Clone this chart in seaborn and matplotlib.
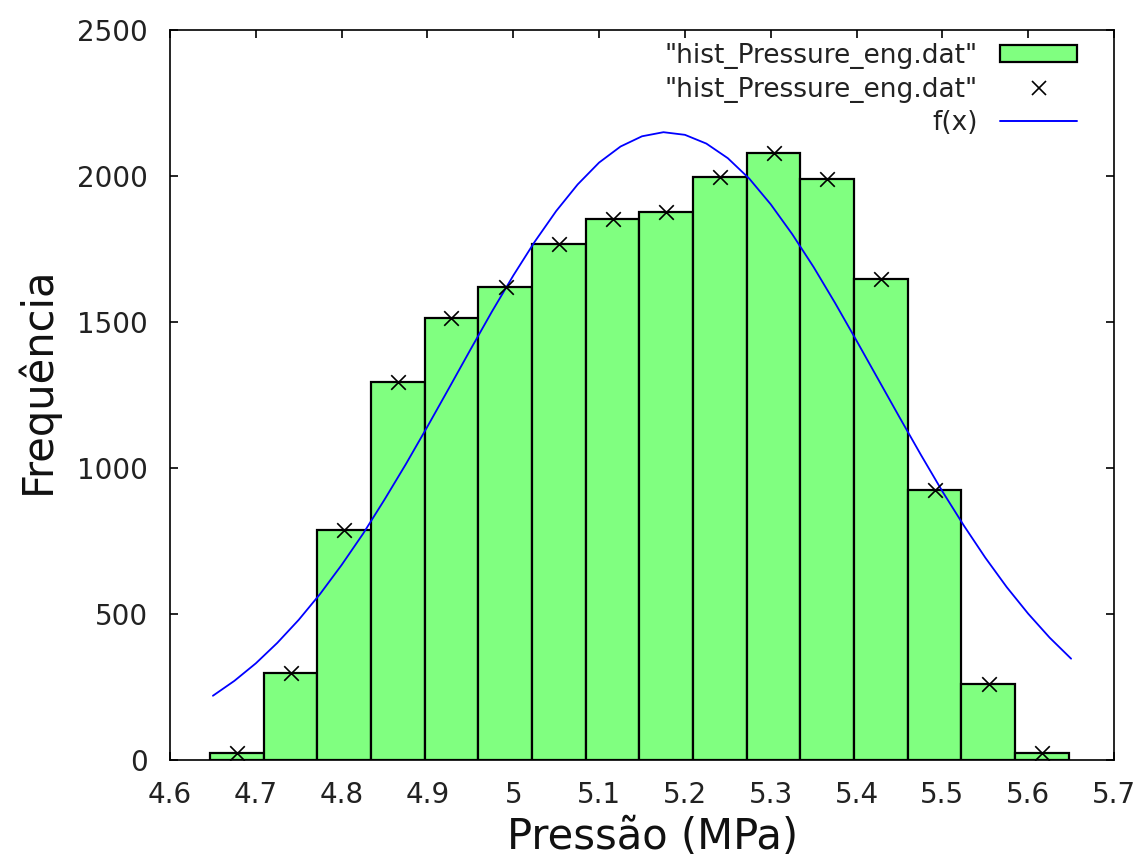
import numpy as np
import pandas as pd
import matplotlib
matplotlib.use("Agg")
import matplotlib.pyplot as plt
import seaborn as sns
from matplotlib.patches import Patch
from matplotlib.lines import Line2D

# ---- data ----
bin_centers = [4.678, 4.741, 4.803, 4.866, 4.928, 4.991, 5.053, 5.116,
               5.178, 5.241, 5.304, 5.366, 5.429, 5.491, 5.554, 5.616]
bin_counts = [24, 299, 788, 1296, 1515, 1621, 1766, 1853,
              1878, 1998, 2080, 1991, 1646, 925, 260, 24]
bin_width = 0.0626

curve_x = [4.650, 4.675, 4.700, 4.725, 4.750, 4.775, 4.800, 4.825, 4.850, 4.875,
           4.900, 4.925, 4.950, 4.975, 5.000, 5.025, 5.050, 5.075, 5.100, 5.125,
           5.150, 5.175, 5.200, 5.225, 5.250, 5.275, 5.300, 5.325, 5.350, 5.375,
           5.400, 5.425, 5.450, 5.475, 5.500, 5.525, 5.550, 5.575, 5.600, 5.625,
           5.650]
curve_y = [220, 271, 331, 401, 480, 569, 668, 775, 892, 1014,
           1142, 1273, 1405, 1535, 1659, 1775, 1880, 1971, 2046, 2101,
           2136, 2150, 2141, 2111, 2061, 1991, 1903, 1801, 1688, 1565,
           1436, 1305, 1174, 1045, 920, 803, 693, 592, 501, 419,
           347]

x_ticks = [4.6, 4.7, 4.8, 4.9, 5.0, 5.1, 5.2, 5.3, 5.4, 5.5, 5.6, 5.7]
x_tick_labels = ["4.6", "4.7", "4.8", "4.9", "5", "5.1", "5.2", "5.3", "5.4", "5.5", "5.6", "5.7"]
y_ticks = [0, 500, 1000, 1500, 2000, 2500]

legend_labels = ['"hist_Pressure_eng.dat"', '"hist_Pressure_eng.dat"', 'f(x)']
x_label = "Pressão (MPa)"
y_label = "Frequência"

# ---- styling ----
sns.set_style("ticks")
plt.rcParams['font.family'] = ['DejaVu Sans']
plt.rcParams['text.color'] = 'black'

bar_color = "#80ff80"
line_color = "#0000ff"

fig = plt.figure(figsize=(11.36, 8.61), dpi=100)
ax = fig.add_axes([0.14965, 0.11731, 0.83099, 0.84785])

hist_df = pd.DataFrame({"center": bin_centers, "count": bin_counts})
lo = bin_centers[0] - bin_width / 2
hi = bin_centers[-1] + bin_width / 2

sns.histplot(data=hist_df, x="center", weights="count", bins=len(bin_centers),
             binrange=(lo, hi), ax=ax,
             color=bar_color, edgecolor="black", linewidth=1.6, alpha=1.0)

curve_df = pd.DataFrame({"x": curve_x, "y": curve_y})
sns.lineplot(data=curve_df, x="x", y="y", ax=ax, color=line_color, linewidth=1.3,
             sort=False, estimator=None)

sns.scatterplot(data=hist_df, x="center", y="count", ax=ax, marker="x", color="black",
                s=110, linewidth=1.2, zorder=5)

ax.set_xlim(4.6, 5.7)
ax.set_ylim(0, 2500)
ax.set_xticks(x_ticks)
ax.set_xticklabels(x_tick_labels)
ax.set_yticks(y_ticks)

ax.tick_params(axis="both", which="major", direction="in", length=6, width=1.2,
               top=True, right=True, labelsize=20, colors="black",
               labelcolor="#222222")
ax.tick_params(axis="x", pad=15)
ax.tick_params(axis="y", pad=16)
for sp in ax.spines.values():
    sp.set_visible(True)
    sp.set_color("black")
    sp.set_linewidth(1.2)

ax.set_xlabel(x_label, fontsize=30, va="center", color="#111111")
ax.set_ylabel(y_label, fontsize=30, va="center", color="#111111")
ax.xaxis.set_label_coords(0.511, -0.106)
ax.yaxis.set_label_coords(-0.141, 0.52)

handles = [
    Patch(facecolor=bar_color, edgecolor="black", linewidth=1.6),
    Line2D([], [], linestyle="none", marker="x", color="black", markersize=10, markeredgewidth=1.2),
    Line2D([], [], color=line_color, linewidth=1.4),
]
leg = ax.legend(handles, legend_labels, loc="upper right",
                bbox_to_anchor=(0.9608, 0.982), frameon=False, fontsize=19,
                markerfirst=False, borderpad=0, borderaxespad=0,
                handlelength=2.9, handletextpad=0.85, labelspacing=0.28,
                handleheight=0.6)
for t in leg.get_texts():
    t.set_color("#222222")

fig.savefig("out.png", dpi=100)
